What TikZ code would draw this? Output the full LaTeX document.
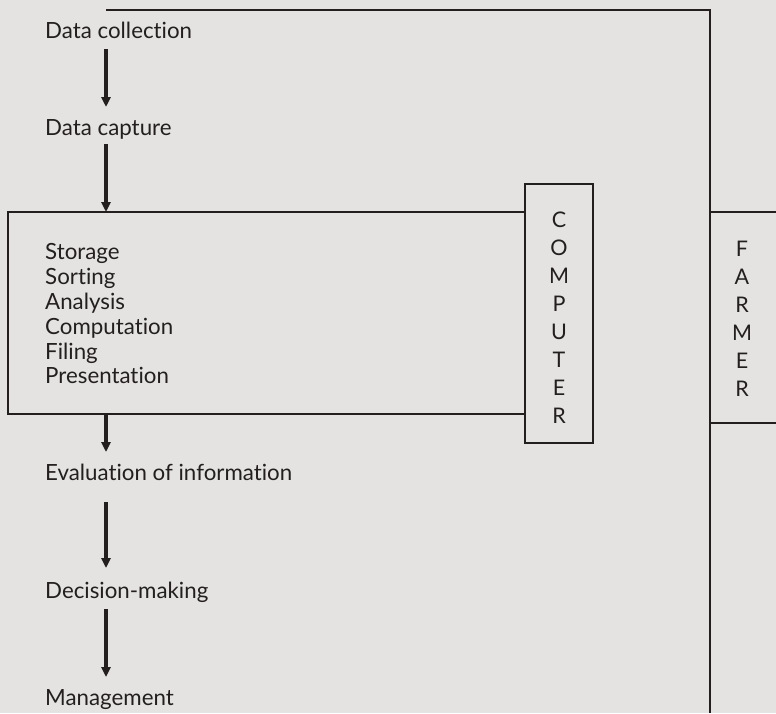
\documentclass[tikz,border=0pt]{standalone}
\usepackage{fontspec}
\setmainfont[Ligatures=NoCommon]{Lato}
\usetikzlibrary{arrows.meta}
\definecolor{paper}{HTML}{E4E3E1}
\definecolor{ink}{HTML}{231F1F}
\tikzset{
  lbl/.style={anchor=base west, inner sep=0pt, text=ink, font=\fontsize{22.3}{25}\selectfont},
  flow/.style={draw=ink, line width=3.5pt, -{Triangle[width=9pt,length=10pt]}},
  frame/.style={draw=ink, line width=2.2pt},
  vlet/.style={inner sep=0pt, text=ink, align=center, font=\fontsize{21.5}{28}\selectfont},
}
\begin{document}
\begin{tikzpicture}[x=1pt,y=-1pt]
\fill[paper] (0,0) rectangle (776,713);
\useasboundingbox (0,0) rectangle (776,713);
% text nodes
\node[lbl] (dcol) at (45,38) {Data collection};
\node[lbl] (dcap) at (45,135) {Data capture};
\node[lbl] (sto) at (45,259) {Storage};
\node[lbl] (sor) at (45,284) {Sorting};
\node[lbl] (ana) at (45,309) {Analysis};
\node[lbl] (com) at (45,334) {Computation};
\node[lbl] (fil) at (45,359) {Filing};
\node[lbl] (pre) at (45,383) {Presentation};
\node[lbl] (eva) at (45,480) {Evaluation of information};
\node[lbl] (dec) at (45,598) {Decision-making};
\node[lbl] (man) at (45,705) {Management};
% computer box
\node[frame, minimum width=68pt, minimum height=259pt, inner sep=0pt] (cbox) at (559,313.5) {};
\node[vlet] (ctext) at (559,317.5) {C\\O\\M\\P\\U\\T\\E\\R};
\node[vlet] (ftext) at (742,319) {F\\A\\R\\M\\E\\R};
% main box
\coordinate (bt) at (cbox.west |- 0,212);
\coordinate (bb) at (cbox.west |- 0,414);
\draw[frame] (bt) -- (8,212) -- (8,414) -- (bb);
% farmer frame
\coordinate (ft0) at (106,10);
\coordinate (ft1) at (710,10);
\coordinate (fbot) at (710,713);
\draw[frame] (ft0) -- (ft1) -- (fbot);
\draw[frame] (710,212) -- (776,212);
\draw[frame] (710,423) -- (776,423);
% arrows
\draw[flow] (106,49) -- (106,107);
\draw[flow] (106,144) -- (106,212);
\draw[flow] (106,414) -- (106,452);
\draw[flow] (106,502) -- (106,568);
\draw[flow] (106,609) -- (106,677);
\end{tikzpicture}
\end{document}
